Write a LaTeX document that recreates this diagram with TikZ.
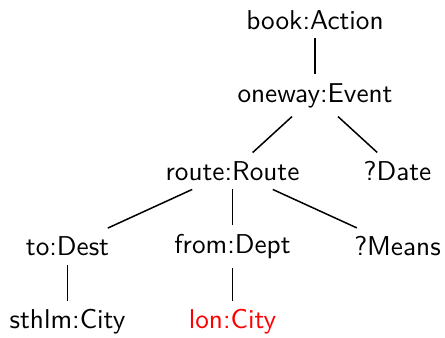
\documentclass[tikz,border=0pt]{standalone}
\begin{document}
\begin{tikzpicture}[
        level distance=30.2pt,
        level 1/.style={sibling distance=66pt},
        level 2/.style={sibling distance=66pt},
        level 3/.style={sibling distance=66pt},
        every node/.style={font=\fontsize{10.9}{13}\sffamily},
        edge from parent/.style={draw,line width=0.6pt},
    ]
        \useasboundingbox (-126pt,8pt) rectangle (52pt,-126.8pt);
        \node (book) {book:Action}
        child { node (oneway) {oneway:Event}
            child { node (route) {route:Route}
                child { node (dest) {to:Dest}
                    child { node (sthlm) {sthlm:City} }
                }
                child { node (dept) {from:Dept}
                    child { node[text=red] (lon) {lon:City} }
                }
                child { node (means) {?Means} }
            }
            child { node (date) {?Date} }
        };
    \end{tikzpicture}
\end{document}
